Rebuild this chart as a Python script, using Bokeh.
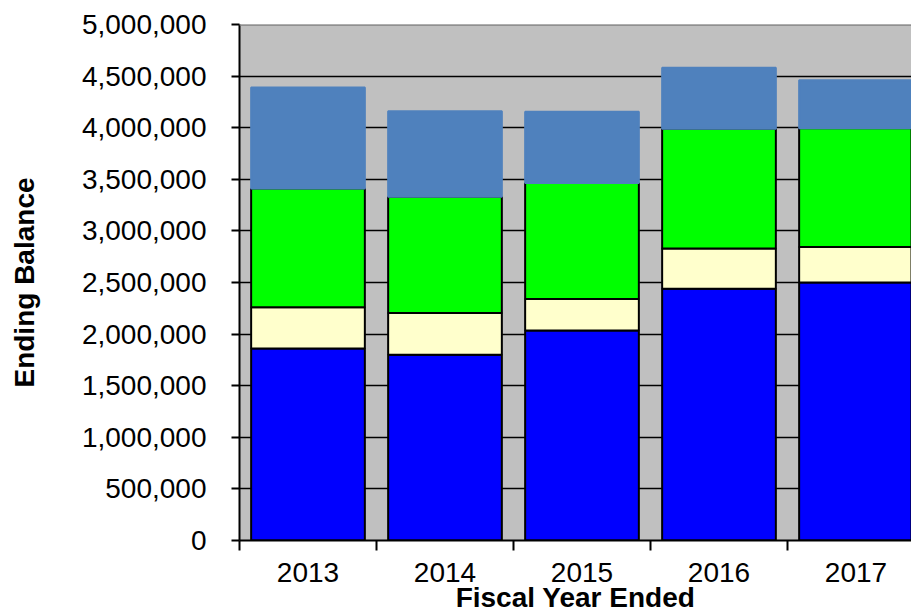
from bokeh.plotting import figure
from bokeh.models import ColumnDataSource, FixedTicker, NumeralTickFormatter, Range1d, Span
from bokeh.embed import file_html
from bokeh.resources import INLINE

# ---- data ----
years = ["2013", "2014", "2015", "2016", "2017"]
seg_blue = [1860000, 1800000, 2035000, 2440000, 2500000]
seg_cream = [400000, 405000, 305000, 390000, 345000]
seg_green = [1150000, 1125000, 1125000, 1160000, 1150000]
seg_steel = [980000, 830000, 690000, 590000, 465000]
y_ticks = [0, 500000, 1000000, 1500000, 2000000, 2500000, 3000000, 3500000, 4000000, 4500000, 5000000]
y_title = "Ending Balance"
x_title = "Fiscal Year Ended"

x_pos = [i + 0.5 for i in range(len(years))]
source = ColumnDataSource(dict(x=x_pos, blue=seg_blue, cream=seg_cream, green=seg_green, steel=seg_steel))

FONT = "Liberation Sans"
CAT_PX = 137  # pixel width of one category slot

p = figure(width=911, height=615, output_backend="svg", toolbar_location=None,
           x_range=Range1d(0, 672 / CAT_PX), y_range=Range1d(0, 5000000),
           min_border_left=239, min_border_right=0, min_border_top=24, min_border_bottom=75)

p.background_fill_color = "#C0C0C0"
p.border_fill_color = "white"
p.outline_line_color = None

p.vbar_stack(["blue", "cream", "green", "steel"], x="x", width=0.83, source=source,
             fill_color=["#0000FF", "#FFFFCC", "#00FF00", "#4F81BD"],
             line_color=["black", "black", "black", "#4F81BD"], line_width=2)

# grid
p.xgrid.visible = False
p.ygrid.grid_line_color = "black"
p.ygrid.grid_line_width = 1.5
p.ygrid.ticker = FixedTicker(ticks=y_ticks[:-1])
p.add_layout(Span(location=5000000, dimension="width", line_color="#808080", line_width=2.5))

# y axis
p.yaxis.ticker = FixedTicker(ticks=y_ticks)
p.yaxis.formatter = NumeralTickFormatter(format="0,0")
p.yaxis.axis_line_color = "black"
p.yaxis.axis_line_width = 2
p.yaxis.major_tick_line_color = "black"
p.yaxis.major_tick_line_width = 2
p.yaxis.major_tick_out = 8
p.yaxis.major_tick_in = 0
p.yaxis.minor_tick_line_color = None
p.yaxis.major_label_text_font = FONT
p.yaxis.major_label_text_font_size = "28px"
p.yaxis.major_label_text_color = "black"
p.yaxis.major_label_standoff = 25
p.yaxis.axis_label = y_title
p.yaxis.axis_label_text_font = FONT
p.yaxis.axis_label_text_font_style = "bold"
p.yaxis.axis_label_text_font_size = "28px"
p.yaxis.axis_label_text_color = "black"
p.yaxis.axis_label_standoff = 39

# x axis
p.xaxis.ticker = FixedTicker(ticks=x_pos, minor_ticks=list(range(len(years) + 1)))
p.xaxis.major_label_overrides = {x: y for x, y in zip(x_pos, years)}
p.xaxis.axis_line_color = "black"
p.xaxis.axis_line_width = 2
p.xaxis.major_tick_line_color = None
p.xaxis.major_tick_out = 10
p.xaxis.major_tick_in = 0
p.xaxis.minor_tick_line_color = "black"
p.xaxis.minor_tick_line_width = 2
p.xaxis.minor_tick_out = 10
p.xaxis.minor_tick_in = 0
p.xaxis.major_label_text_font = FONT
p.xaxis.major_label_text_font_size = "28px"
p.xaxis.major_label_text_color = "black"
p.xaxis.major_label_standoff = 12
p.xaxis.axis_label = x_title
p.xaxis.axis_label_text_font = FONT
p.xaxis.axis_label_text_font_style = "bold"
p.xaxis.axis_label_text_font_size = "28px"
p.xaxis.axis_label_text_color = "black"
p.xaxis.axis_label_standoff = -3

open("out.html", "w").write(file_html(p, INLINE))
